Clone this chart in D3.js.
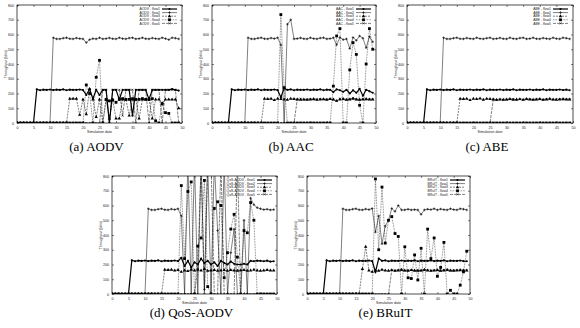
<!DOCTYPE html>
<html><head><meta charset="utf-8">
<script src="https://cdn.jsdelivr.net/npm/d3@7"></script>
<style>body{margin:0;background:#fff} svg{display:block}</style>
</head><body>
<svg id="c" width="580" height="328"></svg>
<script>
const time = [0,1,2,3,4,5,6,7,8,9,10,11,12,13,14,15,16,17,18,19,20,21,22,23,24,25,26,27,28,29,30,31,32,33,34,35,36,37,38,39,40,41,42,43,44,45,46,47,48,49];
const xTicks = [0,5,10,15,20,25,30,35,40,45,50];
const yTicks = [0,100,200,300,400,500,600,700,800];
const flows = ["flow1","flow2","flow3","flow4","flow5"];

// AODV
const aodvF1 = [0,0,0,0,0,0,228,222,226,224, 227,223,226,224,228,222,226,225,224,227, 223,190,230,165,225,190,225,225,0,225, 225,160,225,225,225,50,225,225,225,225, 160,225,225,225,225,225,225,230,225,220];
const aodvF2 = [0,0,0,0,0,0,0,0,0,0, 0,578,570,570,575,578,571,570,576,572, 570,545,565,572,570,578,570,572,577,571, 570,578,572,570,576,578,570,572,578,571, 570,576,572,570,578,572,565,578,575,570];
const aodvF3 = [0,0,0,0,0,0,0,0,0,0, 0,0,0,0,0,0,165,165,165,55, 160,60,230,160,40,160,0,160,30,160, 30,30,160,160,50,160,160,30,160,160, 160,30,160,160,135,160,160,160,160,100];
const aodvF4 = [0,0,0,0,0,0,0,0,0,0, 0,0,0,0,0,0,0,0,0,0, 0,258,200,0,310,425,0,160,150,155, 140,160,165,160,160,165,160,160,165,160, 160,165,15,0,130,70,65,0,0,0];
const aodvF5 = [0,0,0,0,0,0,0,0,0,0, 0,0,0,0,0,0,0,0,0,0, 0,0,0,0,0,0,225,225,0,225, 225,225,50,225,225,225,0,225,225,225, 0,225,225,225,0,225,225,225,225,0];

// AAC
const aacF1 = [0,0,0,0,0,0,228,222,226,224, 227,223,226,224,228,222,226,225,224,227, 223,175,235,224,228,222,226,225,224,227, 223,226,224,228,222,226,225,210,228,222, 212,225,200,222,205,232,185,225,215,205];
const aacF2 = [0,0,0,0,0,0,0,0,0,0, 0,578,570,570,575,578,571,570,576,572, 578,530,0,670,700,570,572,577,571,570, 578,572,570,576,578,570,572,578,530,580, 565,570,505,580,560,590,575,510,585,550];
const aacF3 = [0,0,0,0,0,0,0,0,0,0, 0,0,0,0,0,0,165,163,165,155, 165,163,160,158,165,163,160,158,160,158, 160,163,158,160,162,158,163,160,150,160, 163,158,160,165,160,158,160,163,160,160];
const aacF4 = [0,0,0,0,0,0,0,0,0,0, 0,0,0,0,0,0,0,0,0,0, 0,735,240,0,0,0,0,0,0,0, 0,0,0,0,0,0,0,250,590,640, 0,0,360,545,465,120,0,400,640,500];
const aacF5 = [0,0,0,0,0,0,0,0,0,0, 0,0,0,0,0,0,0,0,0,0, 0,0,0,0,0,0,160,165,158,160, 162,158,160,163,158,160,162,158,150,165, 160,158,162,170,160,158,162,158,160,160];

// ABE
const abeF1 = [0,0,0,0,0,0,228,222,226,224, 227,223,226,224,228,222,226,225,224,227, 223,226,224,228,222,226,225,224,227,223, 226,224,228,222,226,225,224,227,223,226, 224,228,222,226,225,224,227,223,226,222];
const abeF2 = [0,0,0,0,0,0,0,0,0,0, 0,578,570,570,575,578,571,570,576,572, 570,578,572,570,575,578,570,572,577,571, 570,578,572,570,576,578,570,572,578,571, 570,576,572,570,578,572,570,578,575,570];
const abeF3 = [0,0,0,0,0,0,0,0,0,0, 0,0,0,0,0,0,165,163,165,155, 165,163,166,158,165,163,160,158,160,158, 160,163,158,160,162,158,163,160,158,160, 163,158,160,165,160,158,160,163,160,160];
const abeF4 = [0,0,0,0,0,0,0,0,0,0, 0,0,0,0,0,0,0,0,0,0, 0,0,0,0,0,0,0,0,0,0, 0,0,0,0,0,0,0,0,0,0, 0,0,0,0,0,0,0,0,0,0];
const abeF5 = [0,0,0,0,0,0,0,0,0,0, 0,0,0,0,0,0,0,0,0,0, 0,0,0,0,0,0,160,155,160,158, 158,160,162,156,160,158,160,162,158,160, 160,158,162,160,158,160,162,158,160,160];

// QoS-AODV
const qosF1 = [0,0,0,0,0,0,228,222,226,224, 227,223,226,224,228,222,226,225,224,227, 223,245,190,225,180,215,200,240,210,225, 200,215,190,225,210,200,220,205,200,200, 205,200,225,222,226,225,222,226,220,222];
const qosF2 = [0,0,0,0,0,0,0,0,0,0, 0,578,570,570,575,578,571,570,576,572, 578,530,0,900,0,900,0,900,30,900, 0,900,430,0,900,0,280,440,0,0, 500,0,650,605,585,578,572,575,570,572];
const qosF3 = [0,0,0,0,0,0,0,0,0,0, 0,0,0,0,0,0,165,163,165,160, 163,150,160,155,165,160,165,160,170,158, 160,163,158,160,162,158,163,160,158,160, 163,158,160,165,160,158,160,163,160,160];
const qosF4 = [0,0,0,0,0,0,0,0,0,0, 0,0,0,0,0,0,0,0,0,0, 0,735,240,695,760,0,325,380,770,50, 0,580,625,600,110,280,440,540,250,0, 430,415,620,500,0,0,0,0,0,0];
const qosF5 = [0,0,0,0,0,0,0,0,0,0, 0,0,0,0,0,0,0,0,0,0, 0,0,0,0,0,0,170,900,0,900, 900,0,0,900,0,0,0,0,900,0, 0,0,0,0,0,0,0,0,0,0];

// BRuIT
const brF1 = [0,0,0,0,0,0,228,222,226,224, 227,223,226,224,228,222,226,225,224,227, 223,150,240,225,228,222,226,225,224,227, 223,226,224,228,222,226,225,224,227,223, 226,224,228,222,226,225,224,227,223,222];
const brF2 = [0,0,0,0,0,0,0,0,0,0, 0,578,570,570,575,578,571,570,576,572, 580,420,530,340,460,500,580,560,600,570, 570,575,570,572,570,540,570,575,572,578, 570,576,572,570,578,572,570,578,575,570];
const brF3 = [0,0,0,0,0,0,0,0,0,0, 0,0,0,0,0,0,0,170,320,160, 150,160,158,165,160,158,162,158,160,165, 160,158,162,160,158,160,165,160,158,160, 162,158,160,165,160,158,160,163,160,160];
const brF4 = [0,0,0,0,0,0,0,0,0,0, 0,0,0,0,0,0,0,0,0,0, 0,780,300,725,345,500,525,410,390,0, 320,110,105,265,95,310,0,440,240,380, 120,180,350,0,25,0,0,60,150,290];
const brF5 = [0,0,0,0,0,0,0,0,0,0, 0,0,0,0,0,0,0,0,0,0, 0,0,0,0,0,0,160,158,162,160, 158,160,162,156,160,158,160,162,158,160, 160,158,162,160,158,160,162,158,160,160];

const panels = [
  {name:"AODV", caption:"(a) AODV", data:[aodvF1,aodvF2,aodvF3,aodvF4,aodvF5], x0:17, x1:182, y0:5, y1:123, cy:151},
  {name:"AAC", caption:"(b) AAC", data:[aacF1,aacF2,aacF3,aacF4,aacF5], x0:212, x1:376, y0:5, y1:123, cy:151},
  {name:"ABE", caption:"(c) ABE", data:[abeF1,abeF2,abeF3,abeF4,abeF5], x0:407, x1:573, y0:5, y1:123, cy:151},
  {name:"QoS-AODV", caption:"(d) QoS-AODV", data:[qosF1,qosF2,qosF3,qosF4,qosF5], x0:112, x1:277, y0:176, y1:294, cy:317},
  {name:"BRuIT", caption:"(e) BRuIT", data:[brF1,brF2,brF3,brF4,brF5], x0:307, x1:470, y0:176, y1:294, cy:317}
];

const styles = [
  {w:1.2, dash:null, sym:"circle"},
  {w:0.5, dash:null, sym:"plus"},
  {w:0.5, dash:"2,1", sym:"star"},
  {w:0.5, dash:"0.8,0.8", sym:"square"},
  {w:0.5, dash:"3,1", sym:"cross"}
];

const svg = d3.select("#c");
const tickFont = "Liberation Sans, Arial, sans-serif";

function marker(g, sym, cx, cy){
  if(sym==="circle"){
    g.append("circle").attr("cx",cx).attr("cy",cy).attr("r",1.1).attr("fill","#000");
  } else if(sym==="plus"){
    g.append("path").attr("d",`M${cx-1.3},${cy}H${cx+1.3}M${cx},${cy-1.3}V${cy+1.3}`).attr("stroke","#000").attr("stroke-width",0.6);
  } else if(sym==="star"){
    g.append("path").attr("d",d3.symbol(d3.symbolTriangle,5)()).attr("transform",`translate(${cx},${cy})`).attr("fill","#000");
  } else if(sym==="square"){
    g.append("rect").attr("x",cx-1.4).attr("y",cy-1.4).attr("width",2.8).attr("height",2.8).attr("fill","#000");
  } else {
    g.append("path").attr("d",`M${cx-1},${cy-1}L${cx+1},${cy+1}M${cx-1},${cy+1}L${cx+1},${cy-1}`).attr("stroke","#000").attr("stroke-width",0.6);
  }
}

panels.forEach((p,pi)=>{
  const x = d3.scaleLinear().domain([0,50]).range([p.x0,p.x1]);
  const y = d3.scaleLinear().domain([0,800]).range([p.y1,p.y0]);
  const g = svg.append("g");
  const cid = "clip"+pi;
  svg.append("clipPath").attr("id",cid).append("rect")
    .attr("x",p.x0).attr("y",p.y0).attr("width",p.x1-p.x0).attr("height",p.y1-p.y0);

  const ax = [
    g.append("g").attr("transform",`translate(0,${p.y1})`).call(d3.axisBottom(x).tickValues(xTicks).tickSize(-2).tickPadding(3)),
    g.append("g").attr("transform",`translate(0,${p.y0})`).call(d3.axisTop(x).tickValues(xTicks).tickSize(-2).tickFormat("")),
    g.append("g").attr("transform",`translate(${p.x0},0)`).call(d3.axisLeft(y).tickValues(yTicks).tickSize(-2).tickPadding(3)),
    g.append("g").attr("transform",`translate(${p.x1},0)`).call(d3.axisRight(y).tickValues(yTicks).tickSize(-2).tickFormat(""))
  ];
  ax.forEach(a=>{
    a.select(".domain").remove();
    a.selectAll("line").attr("stroke","#000").attr("stroke-width",0.5);
    a.selectAll("text").attr("font-size",3.6).attr("font-family",tickFont).attr("fill","#222");
  });
  g.append("rect").attr("x",p.x0).attr("y",p.y0).attr("width",p.x1-p.x0).attr("height",p.y1-p.y0)
    .attr("fill","none").attr("stroke","#000").attr("stroke-width",0.7);

  g.append("text").attr("transform",`translate(${p.x0-10},${(p.y0+p.y1)/2}) rotate(-90)`)
    .attr("text-anchor","middle").attr("font-size",3.6).attr("font-family",tickFont).attr("fill","#222").text("Throughput (kb/s)");
  g.append("text").attr("x",(p.x0+p.x1)/2).attr("y",p.y1+10)
    .attr("text-anchor","middle").attr("font-size",3.6).attr("font-family",tickFont).attr("fill","#222").text("Simulation date");

  const pg = g.append("g").attr("clip-path",`url(#${cid})`);
  p.data.forEach((vals,si)=>{
    const st = styles[si];
    const line = d3.line().x((d,i)=>x(time[i])).y(d=>y(d));
    pg.append("path").attr("d",line(vals)).attr("fill","none").attr("stroke","#000")
      .attr("stroke-width",st.w).attr("stroke-dasharray",st.dash);
    const mg = pg.append("g");
    vals.forEach((v,i)=>{ if(v<=800) marker(mg, st.sym, x(time[i]), y(v)); });
  });

  const lg = g.append("g");
  flows.forEach((f,si)=>{
    const st = styles[si];
    const ly = p.y0 + 4 + si*3.6;
    lg.append("text").attr("x",p.x1-22).attr("y",ly+1.2).attr("text-anchor","end")
      .attr("font-size",3.4).attr("font-family",tickFont).attr("fill","#222").text(`${p.name} - ${f}`);
    lg.append("line").attr("x1",p.x1-20).attr("x2",p.x1-5).attr("y1",ly).attr("y2",ly)
      .attr("stroke","#000").attr("stroke-width",st.w).attr("stroke-dasharray",st.dash);
    marker(lg, st.sym, p.x1-12.5, ly);
  });

  svg.append("text").attr("x",(p.x0-6+p.x1)/2).attr("y",p.cy)
    .attr("text-anchor","middle").attr("font-size",13).attr("font-family","Liberation Serif, serif")
    .text(p.caption);
});
</script>
</body></html>
